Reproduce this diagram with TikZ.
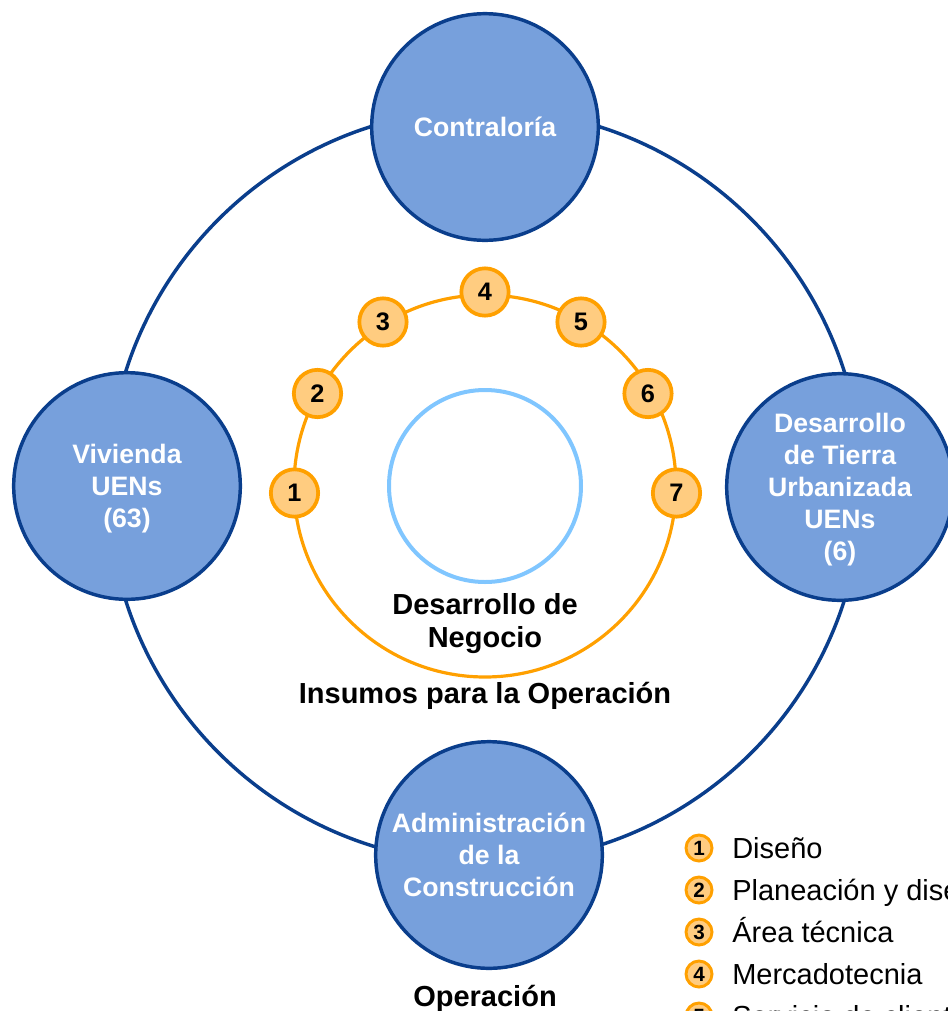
\documentclass[tikz,border=0pt]{standalone}
\usepackage{fontspec}
\setmainfont{Liberation Sans}
\definecolor{navy}{HTML}{0A3E8C}
\definecolor{unitblue}{HTML}{77A0DC}
\definecolor{amber}{HTML}{FFA000}
\definecolor{peach}{HTML}{FFCC80}
\definecolor{skyline}{HTML}{80C6FF}
\begin{document}
\begin{tikzpicture}[x=0.75pt,y=-0.75pt,
  unit/.style={circle, draw=navy, line width=2.6pt, fill=unitblue, minimum size=170pt,
    inner sep=0pt, align=center, text depth=0pt, text=white,
    font=\fontsize{20}{24}\selectfont\bfseries},
  stage/.style={circle, draw=amber, line width=2.8pt, fill=peach, minimum size=35.5pt,
    inner sep=0pt, font=\fontsize{19}{19}\selectfont\bfseries},
  key/.style={circle, draw=amber, line width=2.2pt, fill=peach, minimum size=19.5pt,
    inner sep=0pt, font=\fontsize{15.5}{15.5}\selectfont\bfseries},
  keytext/.style={anchor=base west, inner sep=0pt, font=\fontsize{21.75}{26}\selectfont},
  caption/.style={align=center, inner sep=0pt, font=\fontsize{21.75}{24.75}\selectfont\bfseries}]

\useasboundingbox (0,0) rectangle (947,1011);

% centre of the whole arrangement
\coordinate (c) at (485,486);

% outer ring joining the four units
\draw[navy, line width=2.6pt] (c) circle[radius=377];

% the four units on the ring
\node[unit] (contra) at (485,127) {Contraloría};
\node[unit] (viv) at (127,486) {Vivienda\\UENs\\(63)};
\node[unit] (tierra) at (840,487) {Desarrollo\\de Tierra\\Urbanizada\\UENs\\(6)};
\node[unit] (admin) at (489,855) {Administración\\de la\\Construcción};

% business development: inner ring and core
\draw[amber, line width=2.4pt] (c) circle[radius=191];
\draw[skyline, line width=3pt] (c) circle[radius=96];

\node[stage] (s1) at (294.5,493) {1};
\node[stage] (s2) at (317.5,393.5) {2};
\node[stage] (s3) at (383,322) {3};
\node[stage] (s4) at (485,292) {4};
\node[stage] (s5) at (581,322) {5};
\node[stage] (s6) at (648,393.5) {6};
\node[stage] (s7) at (676.5,493) {7};

% captions
\node[caption] (negocio) at (485,624) {Desarrollo de\\Negocio};
\node[caption, anchor=base] (insumos) at (485,703) {Insumos para la Operación};
\node[caption, anchor=base] (operacion) at (485,1006) {Operación};

% legend
\node[key] (k1) at (699,848) {1};
\node[key] (k2) at (699,890) {2};
\node[key] (k3) at (699,932) {3};
\node[key] (k4) at (699,974) {4};
\node[key] (k5) at (699,1016) {5};
\node[keytext] (t1) at (732,858) {Diseño};
\node[keytext] (t2) at (732,900) {Planeación y diseño};
\node[keytext] (t3) at (732,942) {Área técnica};
\node[keytext] (t4) at (732,984) {Mercadotecnia};
\node[keytext] (t5) at (732,1026) {Servicio de clientes};
\end{tikzpicture}
\end{document}
